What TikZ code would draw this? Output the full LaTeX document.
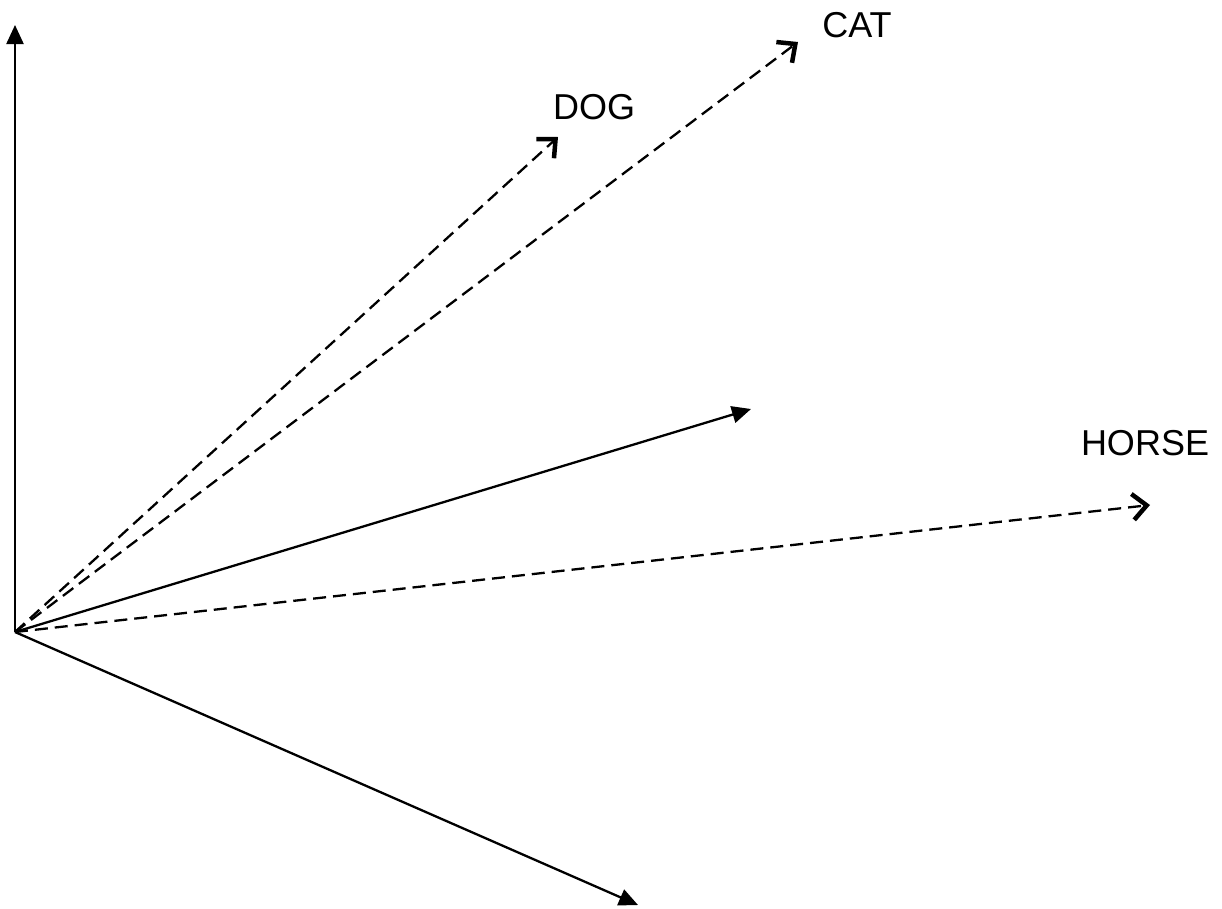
\documentclass[tikz,border=0pt]{standalone}
\usepackage{fontspec}
\setmainfont{Liberation Sans}
\usetikzlibrary{arrows.meta}
\begin{document}
\begin{tikzpicture}[x=1pt,y=-1pt,
  axisvec/.style={line width=2.3pt,-{Triangle[length=19pt,width=17pt]}},
  wordvec/.style={line width=2.3pt,dash pattern=on 13pt off 7pt,
    -{Straight Barb[length=14pt,width=26pt,line width=4.5pt]}},
  wordlabel/.style={font=\fontsize{36}{40}\selectfont,inner sep=0pt}]
\useasboundingbox (0,0) rectangle (1222,908);
\coordinate (O) at (15,632);
\coordinate (ytip) at (15,25);
\coordinate (dogtip) at (558,137);
\coordinate (cattip) at (798,42);
\coordinate (sumtip) at (751,409);
\coordinate (horsetip) at (1150,505);
\coordinate (downtip) at (638,905);
% solid vectors
\draw[axisvec] (O) -- (ytip);
\draw[axisvec] (O) -- (sumtip);
\draw[axisvec] (O) -- (downtip);
% dashed word vectors
\draw[wordvec] (O) -- (dogtip);
\draw[wordvec] (O) -- (cattip);
\draw[wordvec] (O) -- (horsetip);
% labels
\node[wordlabel] (dog) at (594,107) {DOG};
\node[wordlabel] (cat) at (857,25) {CAT};
\node[wordlabel] (horse) at (1145,443) {HORSE};
\end{tikzpicture}
\end{document}
